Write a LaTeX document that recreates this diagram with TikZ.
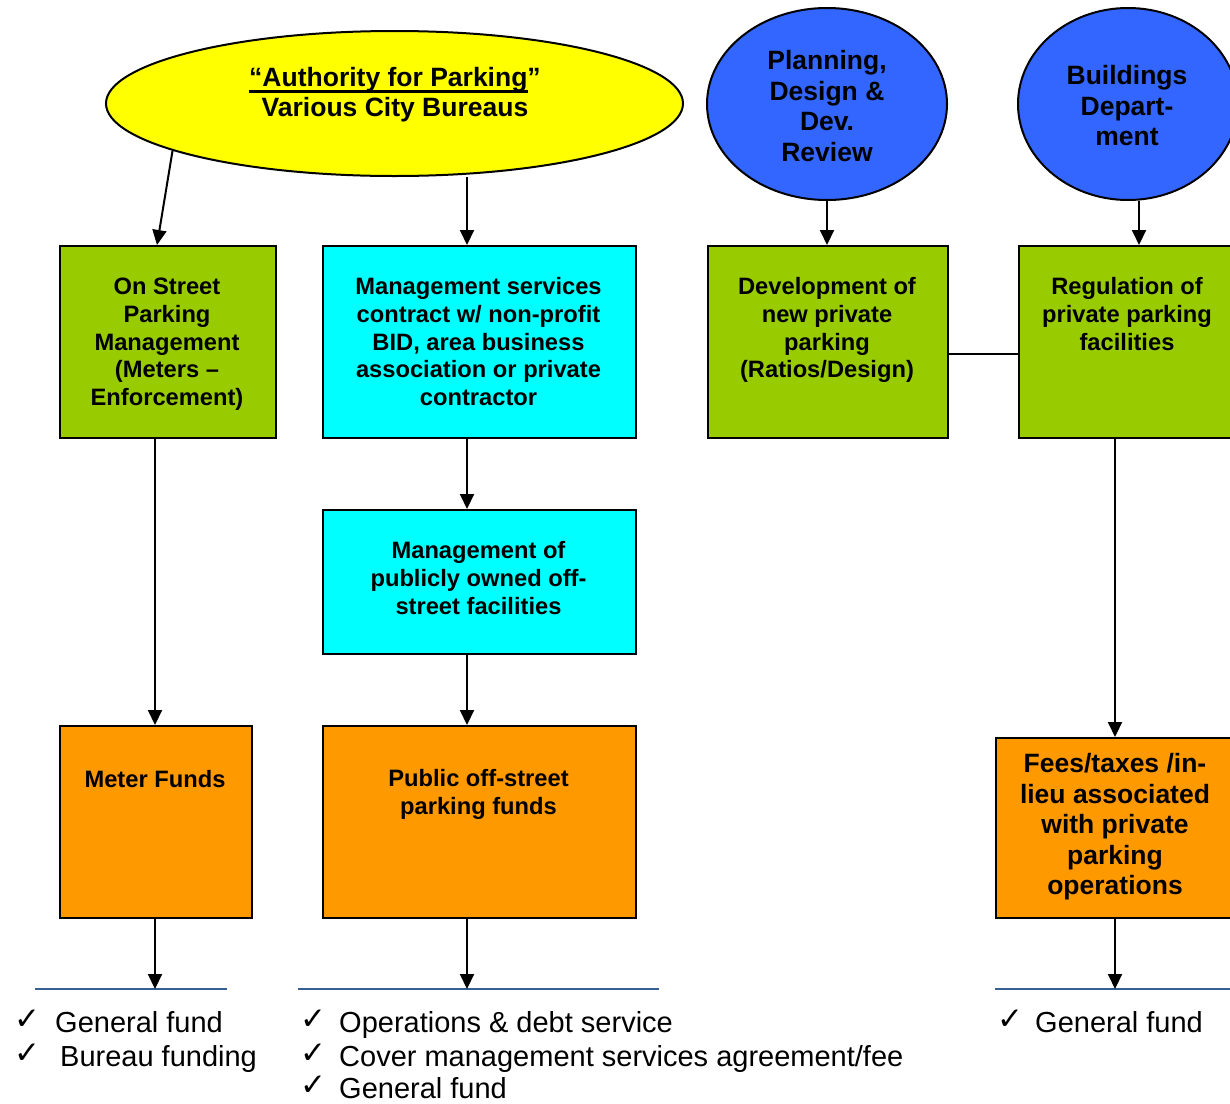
\documentclass[tikz,border=0pt]{standalone}
\usepackage{fontspec}
\setmainfont{Liberation Sans}
\newfontfamily\symfont{DejaVu Sans}
\usetikzlibrary{arrows.meta,shapes.geometric,calc}
\definecolor{leaf}{HTML}{99CC00}
\definecolor{aqua}{HTML}{00FFFF}
\definecolor{amber}{HTML}{FF9900}
\definecolor{royal}{HTML}{3366FF}
\definecolor{lemon}{HTML}{FFFF00}
\definecolor{ruleblue}{RGB}{54,96,146}
\newcommand{\tick}{\raisebox{3pt}{\symfont\fontsize{31}{31}\selectfont ✓}}
% heavy underline set a little below the baseline
\newcommand{\heavyul}[1]{\setbox0=\hbox{#1}\rlap{\rule[-6.5pt]{\wd0}{2.8pt}}\box0}

\begin{document}
\begin{tikzpicture}[x=1pt,y=-1pt,
  box/.style={draw=black,line width=2pt,rectangle,inner sep=0pt,anchor=north west},
  oval/.style={draw=black,line width=2pt,ellipse,inner sep=0pt},
  boxtext/.style={anchor=north,inner sep=0pt,align=center,
    font=\bfseries\fontsize{23.7}{27.7}\selectfont},
  bigtext/.style={anchor=north,inner sep=0pt,align=center,
    font=\bfseries\fontsize{26.5}{30.5}\selectfont},
  arr/.style={line width=2pt,-{Triangle[length=15pt,width=14pt]}},
  link/.style={line width=1.5pt},
  fundrule/.style={draw=ruleblue,line width=2pt},
  item/.style={anchor=base west,inner sep=0pt,font=\fontsize{29}{33}\selectfont}
]
\useasboundingbox (0,0) rectangle (1230,1103);
\clip (0,0) rectangle (1230,1103);

% column positions used by the connectors
\coordinate (colA) at (155,0);
\coordinate (colB) at (467,0);
\coordinate (colC) at (1115,0);
\coordinate (colD) at (1139,0);
\coordinate (colE) at (827,0);
\coordinate (rowR) at (0,354);

% top row: authorities
\node[oval,fill=lemon,minimum width=577pt,minimum height=145pt] (auth) at (394.5,103.5) {};
\node[bigtext] (authT) at (395,67) {\heavyul{“Authority for Parking}”\\Various City Bureaus};
\node[oval,fill=royal,minimum width=240pt,minimum height=192pt] (plan) at (827,104) {};
\node[bigtext] (planT) at (827,50.5) {Planning,\\Design \&\\Dev.\\Review};
\node[oval,fill=royal,minimum width=220pt,minimum height=192pt] (bldg) at (1128,104) {};
\node[bigtext] (bldgT) at (1127,65.5) {Buildings\\Depart-\\ment};

% second row: management responsibilities
\node[box,fill=leaf,minimum width=216pt,minimum height=192pt] (onst) at (59,245) {};
\node[boxtext] (onstT) at (167,278) {On Street\\Parking\\Management\\(Meters –\\Enforcement)};
\node[box,fill=aqua,minimum width=313pt,minimum height=192pt] (mgmt) at (322,245) {};
\node[boxtext] (mgmtT) at (478.5,277.5) {Management services\\contract w/ non-profit\\BID, area business\\association or private\\contractor};
\node[box,fill=leaf,minimum width=240pt,minimum height=192pt] (devel) at (707,245) {};
\node[boxtext] (develT) at (827,277.5) {Development of\\new private\\parking\\(Ratios/Design)};
\node[box,fill=leaf,minimum width=218pt,minimum height=192pt] (regul) at (1018,245) {};
\node[boxtext] (regulT) at (1127,277.5) {Regulation of\\private parking\\facilities};

% third row
\node[box,fill=aqua,minimum width=313pt,minimum height=144pt] (pubm) at (322,509) {};
\node[boxtext] (pubmT) at (478.5,541.5) {Management of\\publicly owned off-\\street facilities};

% fund boxes
\node[box,fill=amber,minimum width=192pt,minimum height=192pt] (meter) at (59,725) {};
\node[boxtext] (meterT) at (155,770.5) {Meter Funds};
\node[box,fill=amber,minimum width=313pt,minimum height=192pt] (pubf) at (322,725) {};
\node[boxtext] (pubfT) at (478.5,769.5) {Public off-street\\parking funds};
\node[box,fill=amber,minimum width=240pt,minimum height=180pt] (fees) at (995,737) {};
\node[bigtext] (feesT) at (1115,753.5) {Fees/taxes /in-\\lieu associated\\with private\\parking\\operations};

% destination rules
\coordinate (r1) at (155,989);
\coordinate (r2) at (467,989);
\coordinate (r3) at (1115,989);
\draw[fundrule] (35,989) -- (227,989);
\draw[fundrule] (298,989) -- (659,989);
\draw[fundrule] (995,989) -- (1230,989);

% connectors
\draw[arr] (auth.192.6) -- ($(onst.north)+(-11,0)$);
\draw[arr] (auth.south -| colB) -- (mgmt.north -| colB);
\draw[arr] (plan.south -| colE) -- (devel.north -| colE);
\draw[arr] (bldg.south -| colD) -- (regul.north -| colD);
\draw[link] (devel.east |- rowR) -- (regul.west |- rowR);
\draw[arr] (onst.south -| colA) -- (meter.north -| colA);
\draw[arr] (mgmt.south -| colB) -- (pubm.north -| colB);
\draw[arr] (pubm.south -| colB) -- (pubf.north -| colB);
\draw[arr] (regul.south -| colC) -- (fees.north -| colC);
\draw[arr] (meter.south -| colA) -- (r1);
\draw[arr] (pubf.south -| colB) -- (r2);
\draw[arr] (fees.south -| colC) -- (r3);

% funding destinations
\node[item] (l1a) at (14,1032) {\makebox[41pt][l]{\tick}General fund};
\node[item] (l1b) at (14,1066) {\makebox[46pt][l]{\tick}Bureau funding};
\node[item] (l2a) at (300,1032) {\makebox[39pt][l]{\tick}Operations \& debt service};
\node[item] (l2b) at (300,1066) {\makebox[39pt][l]{\tick}Cover management services agreement/fee};
\node[item] (l2c) at (300,1098) {\makebox[39pt][l]{\tick}General fund};
\node[item] (l3a) at (997,1032) {\makebox[38pt][l]{\tick}General fund};
\end{tikzpicture}
\end{document}
